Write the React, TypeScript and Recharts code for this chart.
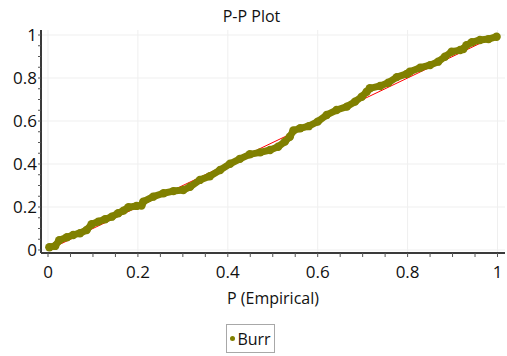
import {
  ScatterChart,
  Scatter,
  XAxis,
  YAxis,
  CartesianGrid,
  Legend,
  Label,
} from 'recharts'

// P (Empirical) vs P (Theoretical)
const pEmpirical = [
  0.003, 0.016, 0.025, 0.042, 0.056, 0.071, 0.086, 0.097, 0.112, 0.127,
  0.142, 0.156, 0.168, 0.179, 0.197, 0.208, 0.212, 0.234, 0.257, 0.279,
  0.301, 0.316, 0.338, 0.36, 0.383, 0.405, 0.427, 0.449, 0.472, 0.494,
  0.512, 0.527, 0.538, 0.546, 0.561, 0.58, 0.6, 0.62, 0.642, 0.665,
  0.683, 0.698, 0.709, 0.716, 0.739, 0.757, 0.776, 0.798, 0.805, 0.828,
  0.85, 0.868, 0.883, 0.898, 0.917, 0.924, 0.931, 0.943, 0.961, 0.98,
  0.998,
]
const pTheoretical = [
  0.013, 0.019, 0.045, 0.059, 0.07, 0.078, 0.093, 0.12, 0.132, 0.143,
  0.155, 0.171, 0.183, 0.199, 0.205, 0.207, 0.225, 0.248, 0.264, 0.274,
  0.279, 0.294, 0.326, 0.343, 0.372, 0.401, 0.424, 0.445, 0.454, 0.465,
  0.48, 0.504, 0.527, 0.556, 0.566, 0.576, 0.597, 0.628, 0.651, 0.667,
  0.69, 0.713, 0.736, 0.752, 0.763, 0.778, 0.804, 0.819, 0.829, 0.848,
  0.86, 0.876, 0.899, 0.922, 0.93, 0.935, 0.953, 0.966, 0.977, 0.981,
  0.992,
]
const diagonalX = [0, 1]
const diagonalY = [0, 1]

const majorTicks = [0, 0.2, 0.4, 0.6, 0.8, 1]
const allTicks = [
  0, 0.05, 0.1, 0.15, 0.2, 0.25, 0.3, 0.35, 0.4, 0.45, 0.5,
  0.55, 0.6, 0.65, 0.7, 0.75, 0.8, 0.85, 0.9, 0.95, 1,
]

const burrPoints = pEmpirical.map((x, i) => ({ x, y: pTheoretical[i] }))
const diagonal = diagonalX.map((x, i) => ({ x, y: diagonalY[i] }))

const OLIVE = '#808000'
const TEXT = '#111'
const xDomain = [-0.0156, 1.0167]
const yDomain = [-0.014, 1.0233]

const fmt = (v: number) =>
  majorTicks.some((m) => Math.abs(m - v) < 1e-6) ? String(+v.toFixed(1)) : ''

const LegendBox = () => (
  <div style={{ height: 40, display: 'flex', justifyContent: 'center', alignItems: 'flex-end', paddingRight: 4 }}>
    <div
      style={{
        border: '1px solid #a8a8a8',
        display: 'flex',
        alignItems: 'center',
        height: 27,
        padding: '0 3px 0 3px',
        fontSize: 16,
        color: TEXT,
      }}
    >
      <span style={{ width: 5, height: 5, borderRadius: '50%', background: OLIVE, marginRight: 2 }} />
      Burr
    </div>
  </div>
)

export default function App() {
  return (
    <div
      style={{
        position: 'absolute',
        left: 0,
        top: 0,
        width: 507,
        height: 356,
        background: '#fff',
        fontFamily: '"Open Sans", sans-serif',
      }}
    >
      <div
        style={{
          position: 'absolute',
          top: 1,
          left: 0,
          width: 503,
          textAlign: 'center',
          fontSize: 16,
          lineHeight: '30px',
          color: TEXT,
        }}
      >
        P-P Plot
      </div>
      <ScatterChart width={507} height={356} margin={{ top: 30, right: 2, left: 0, bottom: 3 }}>
        <CartesianGrid
          stroke="#efefef"
          horizontalValues={majorTicks}
          verticalValues={majorTicks}
        />
        <XAxis
          type="number"
          dataKey="x"
          domain={xDomain}
          allowDataOverflow
          ticks={allTicks}
          interval={0}
          tickFormatter={fmt}
          height={60}
          tickSize={4}
          tickMargin={9}
          tick={{ fontSize: 17, fill: TEXT }}
          tickLine={{ stroke: '#555' }}
          axisLine={{ stroke: '#3a3a3a', strokeWidth: 2 }}
        >
          <Label value="P (Empirical)" position="insideBottom" offset={9} style={{ fontSize: 16, fill: TEXT }} />
        </XAxis>
        <XAxis
          xAxisId="top"
          orientation="top"
          type="number"
          domain={xDomain}
          allowDataOverflow
          height={0}
          tick={false}
          tickLine={false}
          axisLine={{ stroke: '#666' }}
        />
        <YAxis
          type="number"
          dataKey="y"
          domain={yDomain}
          allowDataOverflow
          ticks={allTicks}
          interval={0}
          tickFormatter={fmt}
          width={41}
          tickSize={3}
          tickMargin={1}
          tick={{ fontSize: 17, fill: TEXT }}
          tickLine={{ stroke: '#555' }}
          axisLine={{ stroke: '#3a3a3a', strokeWidth: 2 }}
        />
        <YAxis
          yAxisId="right"
          orientation="right"
          type="number"
          domain={yDomain}
          allowDataOverflow
          width={0}
          tick={false}
          tickLine={false}
          axisLine={{ stroke: '#666' }}
        />
        <Legend verticalAlign="bottom" content={() => <LegendBox />} />
        <Scatter
          name="diagonal"
          data={diagonal}
          line={{ stroke: '#ff0000', strokeWidth: 1 }}
          shape={() => <g />}
          legendType="none"
          isAnimationActive={false}
        />
        <Scatter
          name="Burr"
          data={burrPoints}
          fill={OLIVE}
          line={{ stroke: OLIVE, strokeWidth: 7, strokeLinejoin: 'round', strokeLinecap: 'round' }}
          shape={(p: any) => <circle cx={p.cx} cy={p.cy} r={4.2} fill={OLIVE} />}
          isAnimationActive={false}
        />
      </ScatterChart>
    </div>
  )
}
